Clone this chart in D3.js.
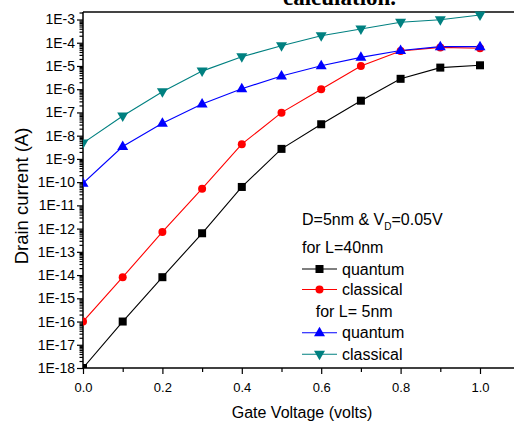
<!DOCTYPE html>
<html><head><meta charset="utf-8">
<script src="https://cdn.jsdelivr.net/npm/d3@7"></script>
<style>
html,body{margin:0;padding:0;background:#fff;}
svg{display:block;}
text{font-family:Arial,"Liberation Sans",sans-serif;}
</style></head>
<body>
<script>
// ---- data ----
const gateVoltage = [0.0,0.1,0.2,0.3,0.4,0.5,0.6,0.7,0.8,0.9,1.0];
const quantum40 = [1e-18,1e-16,8.1e-15,6.3e-13,6.2e-11,2.7e-9,3.1e-8,3.2e-7,2.8e-6,8.5e-6,1.07e-5];
const classical40 = [1e-16,8.1e-15,7.2e-13,5.2e-11,4.3e-9,9.8e-8,1e-6,1.0e-5,4.4e-5,6.3e-5,5.8e-5];
const quantum5 = [8.9e-11,3.4e-9,3.4e-8,2.3e-7,1.05e-6,3.7e-6,1.02e-5,2.35e-5,4.6e-5,6.8e-5,6.8e-5];
const classical5 = [4.8e-9,7e-8,7.8e-7,6e-6,2.5e-5,7.4e-5,2e-4,3.9e-4,7.6e-4,9.8e-4,1.56e-3];
const yTickExponents = [-3,-4,-5,-6,-7,-8,-9,-10,-11,-12,-13,-14,-15,-16,-17,-18];
const xTickLabels = [0.0,0.2,0.4,0.6,0.8,1.0];
const seriesNames = ["quantum","classical","quantum","classical"];

(function(){
const W=514,H=425;
const pL=83, pT=12, pB=368;
const svg=d3.select("body").append("svg").attr("width",W).attr("height",H);

const x=d3.scaleLinear().domain([0,1.15]).range([pL,pL+397*1.15]);
const y=d3.scaleLog().domain([1e-18,Math.pow(10,-2.677)]).range([pB,pT]);

svg.append("defs").append("clipPath").attr("id","plot")
  .append("rect").attr("x",pL).attr("y",pT-6).attr("width",W).attr("height",pB-pT+6);

// title fragment (cut off at the top in the reference)
svg.append("text").attr("x",283).attr("y",5)
  .style("font-family","'Liberation Serif','Times New Roman',serif")
  .style("font-weight","bold").style("font-size","23px").text("calculation.");

// top frame line
svg.append("line").attr("x1",pL).attr("x2",W).attr("y1",pT).attr("y2",pT)
  .attr("stroke","#444").attr("stroke-width",2);

// y axis
const majors=yTickExponents.map(e=>Math.pow(10,e));
const minors=[];
for(let e=-18;e<-3;e++){for(let k=2;k<=9;k++){minors.push(k*Math.pow(10,e));}}
minors.push(2e-3);
const yMinor=svg.append("g").attr("transform",`translate(${pL},0)`)
  .call(d3.axisLeft(y).tickValues(minors).tickSize(3.5).tickFormat(""));
yMinor.select(".domain").remove();
const yAx=svg.append("g").attr("transform",`translate(${pL},0)`)
  .call(d3.axisLeft(y).tickValues(majors).tickSize(6).tickPadding(2)
    .tickFormat(d=>"1E"+Math.round(Math.log10(d))));
yAx.select(".domain").attr("d",`M0,${pT}V${pB}`).attr("stroke-width",1.5);
yAx.selectAll("text").style("font-size","14px").attr("fill","#000");

// x axis
const xMinorVals=[0.1,0.3,0.5,0.7,0.9,1.1];
const xMinor=svg.append("g").attr("transform",`translate(0,${pB})`)
  .call(d3.axisBottom(x).tickValues(xMinorVals).tickSize(4).tickFormat(""));
xMinor.select(".domain").remove();
const xAx=svg.append("g").attr("transform",`translate(0,${pB})`)
  .call(d3.axisBottom(x).tickValues(xTickLabels).tickSize(6).tickPadding(9)
    .tickFormat(d3.format(".1f")));
xAx.select(".domain").attr("d",`M${pL},0H${W+10}`).attr("stroke-width",1.5);
xAx.selectAll("text").style("font-size","13px").attr("fill","#000");
svg.selectAll("g.tick line").attr("stroke","#000").attr("stroke-width",1.2);

// axis titles
svg.append("text").attr("x",302).attr("y",418).attr("text-anchor","middle")
  .style("font-size","16px").text("Gate Voltage (volts)");
svg.append("text").attr("transform","translate(28,196) rotate(-90)").attr("text-anchor","middle")
  .style("font-size","18.5px").text("Drain current (A)");

function marker(g,type,color){
  if(type==="square") g.append("rect").attr("x",-4).attr("y",-4).attr("width",8).attr("height",8).attr("fill",color);
  else if(type==="circle") g.append("circle").attr("r",4).attr("fill",color);
  else if(type==="up") g.append("path").attr("d","M0,-6L5.5,3.5L-5.5,3.5Z").attr("fill",color);
  else g.append("path").attr("d","M0,6L5.5,-3.5L-5.5,-3.5Z").attr("fill",color);
}
const series=[
  {vals:quantum40,color:"#000000",type:"square"},
  {vals:classical40,color:"#ff0000",type:"circle"},
  {vals:quantum5,color:"#0000ff",type:"up"},
  {vals:classical5,color:"#008080",type:"down"}
];
const plot=svg.append("g").attr("clip-path","url(#plot)");
const line=d3.line().x((d,i)=>x(gateVoltage[i])).y(d=>y(d));
series.forEach(s=>{
  plot.append("path").datum(s.vals).attr("d",line).attr("fill","none")
    .attr("stroke",s.color).attr("stroke-width",1.1);
});
series.forEach(s=>{
  s.vals.forEach((v,i)=>{
    const g=plot.append("g").attr("transform",`translate(${x(gateVoltage[i])},${y(v)})`);
    marker(g,s.type,s.color);
  });
});

// legend
const lg=svg.append("g");
const t1=lg.append("text").attr("x",302).attr("y",225).style("font-size","16px");
t1.append("tspan").text("D=5nm & V");
t1.append("tspan").attr("dy",5).style("font-size","10px").text("D");
t1.append("tspan").attr("dy",-5).text("=0.05V");
lg.append("text").attr("x",302).attr("y",252.7).style("font-size","16px").text("for L=40nm");
lg.append("text").attr("x",315.7).attr("y",316.7).style("font-size","16px").text("for L= 5nm");
const rows=[269,289.5,332.7,354.3];
series.forEach((s,i)=>{
  const ry=rows[i];
  lg.append("line").attr("x1",302).attr("x2",337).attr("y1",ry).attr("y2",ry)
    .attr("stroke",s.color).attr("stroke-width",1.1);
  const g=lg.append("g").attr("transform",`translate(319.5,${ry})`);
  marker(g,s.type,s.color);
  lg.append("text").attr("x",342).attr("y",ry+5.5).style("font-size","16px").text(seriesNames[i]);
});
})();
</script>
</body></html>
